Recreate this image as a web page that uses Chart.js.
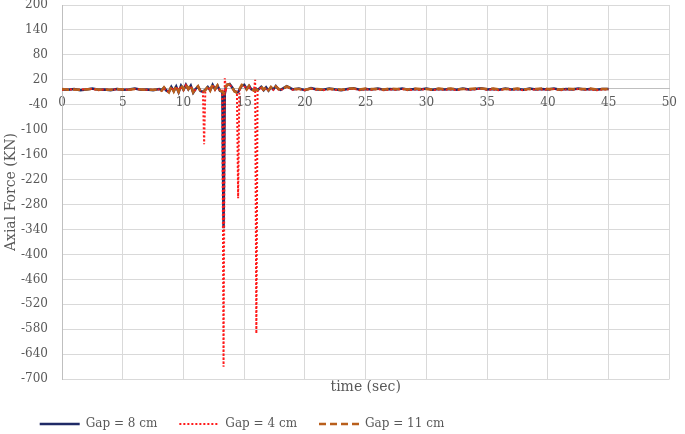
<!DOCTYPE html>
<html>
<head>
<meta charset="utf-8">
<script src="https://cdn.jsdelivr.net/npm/chart.js@4.4.1/dist/chart.umd.min.js"></script>
<style>
  html, body { margin: 0; padding: 0; background: #ffffff; }
  #wrap { width: 685px; height: 434px; }
</style>
</head>
<body>
<div id="wrap"><canvas id="axialChart"></canvas></div>
<script>
// time samples (sec)
const time = [
  0, 0.5, 1, 1.5, 2, 2.5, 3, 3.5, 4, 4.5, 5, 5.5, 6, 6.5, 7, 7.5, 8,
  8.2, 8.4, 8.6, 8.8, 9, 9.2, 9.4, 9.6, 9.8, 10, 10.2, 10.4, 10.6, 10.8, 11, 11.2, 11.4,
  11.6, 11.7, 11.8,
  12, 12.2, 12.4, 12.6, 12.8, 13,
  13.2, 13.3, 13.4, 13.5, 13.6,
  13.8, 14, 14.2, 14.4, 14.5, 14.6, 14.8, 15, 15.2, 15.4, 15.6, 15.8,
  15.9, 16, 16.1,
  16.4, 16.6, 16.8, 17, 17.2, 17.4, 17.6, 17.8, 18,
  18.5, 19, 19.5, 20, 20.5, 21, 21.5, 22, 22.5, 23, 23.5, 24, 24.5, 25, 25.5, 26, 26.5, 27,
  27.5, 28, 28.5, 29, 29.5, 30, 30.5, 31, 31.5, 32, 32.5, 33, 33.5, 34, 34.5, 35, 35.5, 36,
  36.5, 37, 37.5, 38, 38.5, 39, 39.5, 40, 40.5, 41, 41.5, 42, 42.5, 43, 43.5, 44, 44.5, 45
];

// axial force (KN)
const gap8 = [
  -3, -4, -2, -5, -3, -1, -4, -3, -5, -2, -4, -3, -1, -4, -3, -5, -2,
  -5, 1, -6, -9, 3, -7, 4, -10, 6, -4, 8, -3, 6, -11, -2, 4, -7,
  -9, -6, -4,
  3, -5, 8, -3, 6, -6,
  -8, -337, -14, 4, 8,
  10, 2, -7, -10, -9, -4, 6, 8, -2, 5, -3, -5,
  -4, -2, -5,
  3, -5, 2, -6, 2, -3, 5, -2, -4,
  5, -3, -1, -5, 0, -3, -4, -1, -3, -5, -2, 0, -4, -2, -3, -1, -4, -2,
  -3, -1, -4, -2, -3, -1, -4, -2, -3, -2, -4, -1, -3, -2, 0, -3, -2, -4,
  -1, -3, -2, -4, -1, -3, -2, -3, -1, -4, -2, -3, -1, -3, -2, -4, -2, -2
];

const gap4 = [
  -4, -3, -3, -4, -2, -2, -5, -3, -4, -3, -3, -4, -2, -3, -4, -4, -3,
  -6, 0, -7, -8, 2, -6, 3, -9, 5, -5, 7, -4, 5, -10, -3, 3, -6,
  -8, -135, -5,
  2, -4, 7, -4, 5, -5,
  -6, -670, 24, -3, 6,
  9, 0, -6, -9, -265, -6, 5, 6, -3, 3, -4, -6,
  20, -590, -5,
  2, -6, 1, -6, 1, -4, 4, -3, -5,
  3, -4, -2, -5, -1, -4, -5, -2, -4, -5, -3, -1, -5, -3, -4, -2, -5, -3,
  -4, -2, -5, -3, -4, -2, -5, -3, -4, -3, -5, -2, -4, -3, -1, -4, -3, -5,
  -2, -4, -3, -5, -2, -4, -3, -4, -2, -5, -3, -4, -2, -4, -3, -5, -3, -3
];

const gap11 = [
  -2, -4, -3, -4, -3, -2, -3, -4, -4, -2, -3, -4, -2, -3, -4, -4, -3,
  -6, 2, -5, -10, 4, -8, 5, -9, 7, -3, 9, -2, 7, -10, -1, 5, -8,
  -10, -7, -5,
  4, -6, 9, -2, 7, -5,
  -9, -12, -5, 3, 9,
  9, 3, -8, -11, -10, -3, 8, 6, -3, 6, -2, -6,
  -5, -3, -4,
  4, -4, 3, -5, 3, -3, 4, -1, -4,
  4, -2, -2, -4, -1, -2, -3, -2, -2, -4, -1, -1, -3, -1, -2, -2, -3, -1,
  -2, -2, -3, -1, -2, -2, -3, -1, -2, -1, -3, -2, -2, -1, -1, -2, -1, -3,
  -2, -2, -1, -3, -2, -2, -1, -2, -2, -3, -1, -2, -2, -2, -1, -3, -2, -2
];

const seriesLabels = ['Gap = 8 cm', 'Gap = 4 cm', 'Gap = 11 cm'];

const serif = "'DejaVu Serif', serif";
const textGray = '#595959';
const gridGray = '#d9d9d9';

function toPoints(values) {
  return time.map((t, i) => ({ x: t, y: values[i] }));
}

// Excel puts the legend left of centre
const legendShift = {
  id: 'legendShift',
  afterLayout(chart) {
    chart.legend.left -= 98;
    chart.legend.right -= 98;
  }
};

new Chart(document.getElementById('axialChart'), {
  type: 'line',
  data: {
    datasets: [
      {
        label: seriesLabels[0],
        data: toPoints(gap8),
        borderColor: '#1f2a66',
        backgroundColor: '#1f2a66',
        borderWidth: 2.5,
        order: 2
      },
      {
        label: seriesLabels[1],
        data: toPoints(gap4),
        borderColor: '#ff1a1a',
        backgroundColor: '#ff1a1a',
        borderWidth: 2,
        borderDash: [2, 2],
        order: 1
      },
      {
        label: seriesLabels[2],
        data: toPoints(gap11),
        borderColor: '#b95f1c',
        backgroundColor: '#b95f1c',
        borderWidth: 2.5,
        borderDash: [7, 4],
        order: 0
      }
    ]
  },
  options: {
    responsive: true,
    maintainAspectRatio: false,
    animation: false,
    layout: { padding: { left: 3, right: 8, top: 5, bottom: -6 } },
    elements: {
      point: { radius: 0 },
      line: { tension: 0 }
    },
    plugins: {
      legend: {
        position: 'bottom',
        labels: {
          usePointStyle: true,
          pointStyle: 'line',
          pointStyleWidth: 40,
          padding: 22,
          color: textGray,
          font: { family: serif, size: 12 },
          sort: (a, b) => a.datasetIndex - b.datasetIndex,
          generateLabels(chart) {
            const items = Chart.defaults.plugins.legend.labels.generateLabels(chart);
            items.forEach(item => {
              const ds = chart.data.datasets[item.datasetIndex];
              item.strokeStyle = ds.borderColor;
              item.lineWidth = ds.borderWidth;
              item.lineDash = ds.borderDash || [];
            });
            return items;
          }
        }
      },
      tooltip: { enabled: false }
    },
    scales: {
      x: {
        type: 'linear',
        position: { y: 0 },
        min: 0,
        max: 50,
        grid: { color: gridGray, drawTicks: false },
        border: { color: '#bfbfbf' },
        ticks: {
          stepSize: 5,
          padding: 8,
          color: textGray,
          font: { family: serif, size: 12 }
        }
      },
      xTitle: {
        type: 'linear',
        axis: 'x',
        position: 'bottom',
        min: 0,
        max: 50,
        grid: { display: false, drawTicks: false },
        border: { display: false },
        ticks: { display: false },
        title: {
          display: true,
          text: 'time (sec)',
          color: textGray,
          padding: { top: 0, bottom: 0 },
          font: { family: serif, size: 14 }
        }
      },
      y: {
        min: -700,
        max: 200,
        afterFit(scale) {
          scale.width = 59;
          scale.paddingTop = 0;
          scale.paddingBottom = 0;
        },
        grid: { color: gridGray, drawTicks: false },
        border: { color: '#bfbfbf' },
        ticks: {
          stepSize: 60,
          padding: 14,
          color: textGray,
          font: { family: serif, size: 12, lineHeight: 1 }
        },
        title: {
          display: true,
          text: 'Axial Force (KN)',
          color: textGray,
          padding: { top: 0, bottom: 0 },
          font: { family: serif, size: 14 }
        }
      }
    }
  },
  plugins: [legendShift]
});
</script>
</body>
</html>
